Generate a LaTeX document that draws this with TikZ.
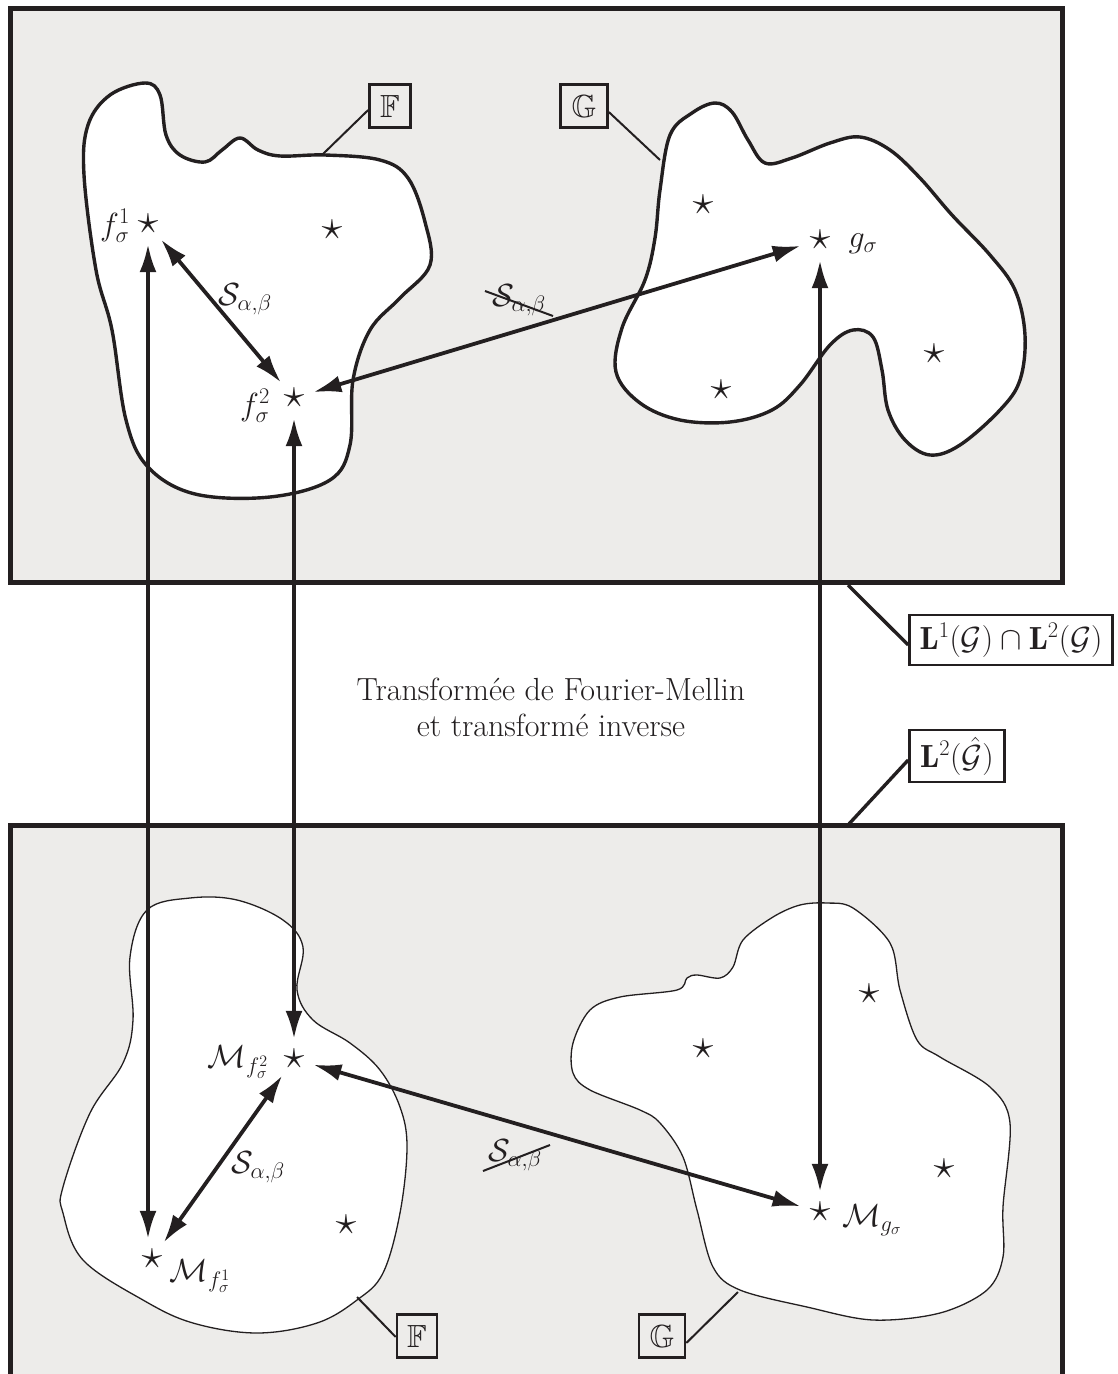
\RequirePackage{fix-cm}
\documentclass[tikz,border=0pt]{standalone}
\usepackage{amssymb}
\usepackage{fontspec}
\usetikzlibrary{arrows.meta}
\definecolor{bggray}{HTML}{EDECEA}
\definecolor{ink}{HTML}{231F20}
\newcommand{\stx}{\scalebox{1.3}{$\star$}}
\begin{document}
\begin{tikzpicture}[x=1pt,y=-1pt,
  every node/.style={font=\fontsize{32}{36}\selectfont, text=ink},
  starnode/.style={circle, minimum size=40pt, inner sep=0pt},
  lbl/.style={inner sep=0pt},
  tagbox/.style={draw=ink, line width=2.6pt, fill=bggray, inner sep=0pt, minimum height=43pt},
  bigarrow/.style={ink, line width=3.8pt, {Latex[length=28pt,width=17pt]}-{Latex[length=28pt,width=17pt]}},
  thickblob/.style={draw=ink, fill=white, line width=3.4pt},
  thinblob/.style={draw=ink, fill=white, line width=1.3pt},
  leader/.style={ink, line width=2pt},
  bigleader/.style={ink, line width=3.4pt},
  strike/.style={ink, line width=2pt}
]
\useasboundingbox (0,0) rectangle (1117,1374);
\clip (0,0) rectangle (1117,1374);
\fill[white] (0,0) rectangle (1117,1374);

% spaces
\draw[ink, line width=5pt, fill=bggray] (10,8) rectangle (1062,582);
\fill[bggray] (10,825) rectangle (1062,1400);
\draw[ink, line width=5pt] (10,1400) -- (10,825) -- (1062,825) -- (1062,1400);

% top blobs
\draw[thickblob] plot[smooth cycle, tension=0.6] coordinates {
 (145,83) (160,95) (166,135) (180,155) (205,162) (222,150) (240,138) (258,150) (280,156)
 (325,155) (380,160) (408,178) (425,222) (430,265) (400,298) (370,330) (353,380)
 (350,445) (330,480) (270,497) (195,494) (148,467) (126,420) (112,330) (96,270)
 (84,175) (88,125) (110,95)};
\draw[thickblob] plot[smooth cycle, tension=0.6] coordinates {
 (670,135) (692,113) (715,103) (732,112) (748,140) (765,163) (792,158) (830,143)
 (860,137) (890,150) (920,178) (952,215) (990,255) (1015,290) (1025,335) (1020,380)
 (1000,410) (960,445) (930,455) (905,440) (888,410) (882,370) (873,337) (853,330)
 (830,345) (800,385) (772,410) (730,422) (680,420) (640,403) (616,372) (622,328)
 (645,280) (655,238) (660,190)};

% bottom blobs
\draw[thinblob] plot[smooth cycle, tension=0.6] coordinates {
 (147,910) (190,898) (237,900) (283,920) (303,947) (297,990) (313,1020) (350,1043)
 (380,1070) (400,1107) (407,1147) (400,1213) (383,1273) (357,1300) (317,1323)
 (257,1333) (193,1323) (143,1300) (83,1260) (63,1213) (63,1187) (90,1113)
 (123,1063) (133,1020) (130,957)};
\draw[thinblob] plot[smooth cycle, tension=0.55] coordinates {
 (827,903) (853,908) (890,943) (900,990) (917,1040) (940,1057) (990,1087) (1010,1123)
 (1003,1207) (1003,1257) (987,1290) (940,1313) (873,1320) (807,1307) (740,1290)
 (713,1267) (697,1210) (683,1157) (660,1123) (640,1110) (590,1090) (573,1073)
 (573,1043) (590,1010) (620,997) (677,990) (687,978) (697,975) (720,978) (733,967)
 (743,940) (773,917) (800,905)};

% stars top
\node[starnode] (f1) at (148,224) {\stx};
\node[starnode] (f2) at (294,398) {\stx};
\node[starnode] (g) at (820,240) {\stx};
\node[lbl] (s1) at (332,230) {\stx};
\node[lbl] (s2) at (703,205) {\stx};
\node[lbl] (s3) at (934,354) {\stx};
\node[lbl] (s4) at (721,390) {\stx};
\node[lbl] (f1l) at (115,226) {$f^1_\sigma$};
\node[lbl] (f2l) at (255,406) {$f^2_\sigma$};
\node[lbl] (gl) at (863,244) {$g_\sigma$};

% stars bottom
\node[starnode] (M2) at (294,1059) {\stx};
\node[starnode] (M1) at (152,1259) {\stx};
\node[starnode] (Mg) at (820,1212) {\stx};
\node[lbl] (b1) at (346,1225) {\stx};
\node[lbl] (b2) at (869,994) {\stx};
\node[lbl] (b3) at (703,1049) {\stx};
\node[lbl] (b4) at (944,1169) {\stx};
\node[lbl] (M2l) at (238,1062) {$\mathcal{M}_{f^2_\sigma}$};
\node[lbl] (M1l) at (200,1276) {$\mathcal{M}_{f^1_\sigma}$};
\node[lbl] (Mgl) at (872,1220) {$\mathcal{M}_{g_\sigma}$};

% arrows
\draw[bigarrow] (f1) -- (f1 |- M1.north);
\draw[bigarrow] (f2) -- (M2);
\draw[bigarrow] (g) -- (Mg);
\draw[bigarrow] (f1) -- (f2);
\draw[bigarrow] (f2) -- (g);
\draw[bigarrow] (M1) -- (M2);
\draw[bigarrow] (M2) -- (Mg);

% S labels
\node[lbl] (S1) at (245,299) {$\mathcal{S}_{\alpha,\beta}$};
\node[lbl] (S2) at (519,300) {$\mathcal{S}_{\alpha,\beta}$};
\draw[strike] ([shift={(-34,-9)}]S2.center) -- ([shift={(34,16)}]S2.center);
\node[lbl] (S3) at (258,1167) {$\mathcal{S}_{\alpha,\beta}$};
\node[lbl] (S4) at (515,1155) {$\mathcal{S}_{\alpha,\beta}$};
\draw[strike] ([shift={(-32,16)}]S4.center) -- ([shift={(35,-10)}]S4.center);

% central text
\node[align=center] (tx) at (551,707) {Transformée de Fourier-Mellin\\et transformé inverse};

% tags
\node[tagbox, minimum width=41pt] (tF) at (390,106) {$\mathbb{F}$};
\node[tagbox, minimum width=47pt] (tG) at (584,106) {$\mathbb{G}$};
\node[tagbox, minimum width=40pt] (bF) at (417,1336) {$\mathbb{F}$};
\node[tagbox, minimum width=46pt] (bG) at (662,1336) {$\mathbb{G}$};
\node[tagbox, fill=white, minimum width=203pt, minimum height=50pt] (L1) at (1011,640) {$\mathbf{L}^1(\mathcal{G})\cap\mathbf{L}^2(\mathcal{G})$};
\node[tagbox, fill=white, minimum width=95pt, minimum height=52pt] (L2) at (957,756) {$\mathbf{L}^2(\hat{\mathcal{G}})$};

\coordinate (aF) at (323,154);
\coordinate (aG) at (660,160);
\coordinate (cF) at (357,1297);
\coordinate (cG) at (738,1292);
\coordinate (aL1) at (848,585);
\coordinate (aL2) at (848,825);
\draw[leader] (tF.west |- 0,110) -- (aF);
\draw[leader] (tG.east |- 0,112) -- (aG);
\draw[leader] (bF.west |- 0,1337) -- (cF);
\draw[leader] (bG.east |- 0,1343) -- (cG);
\draw[bigleader] (L1.west |- 0,645) -- (aL1);
\draw[bigleader] (L2.west |- 0,760) -- (aL2);
\end{tikzpicture}
\end{document}
